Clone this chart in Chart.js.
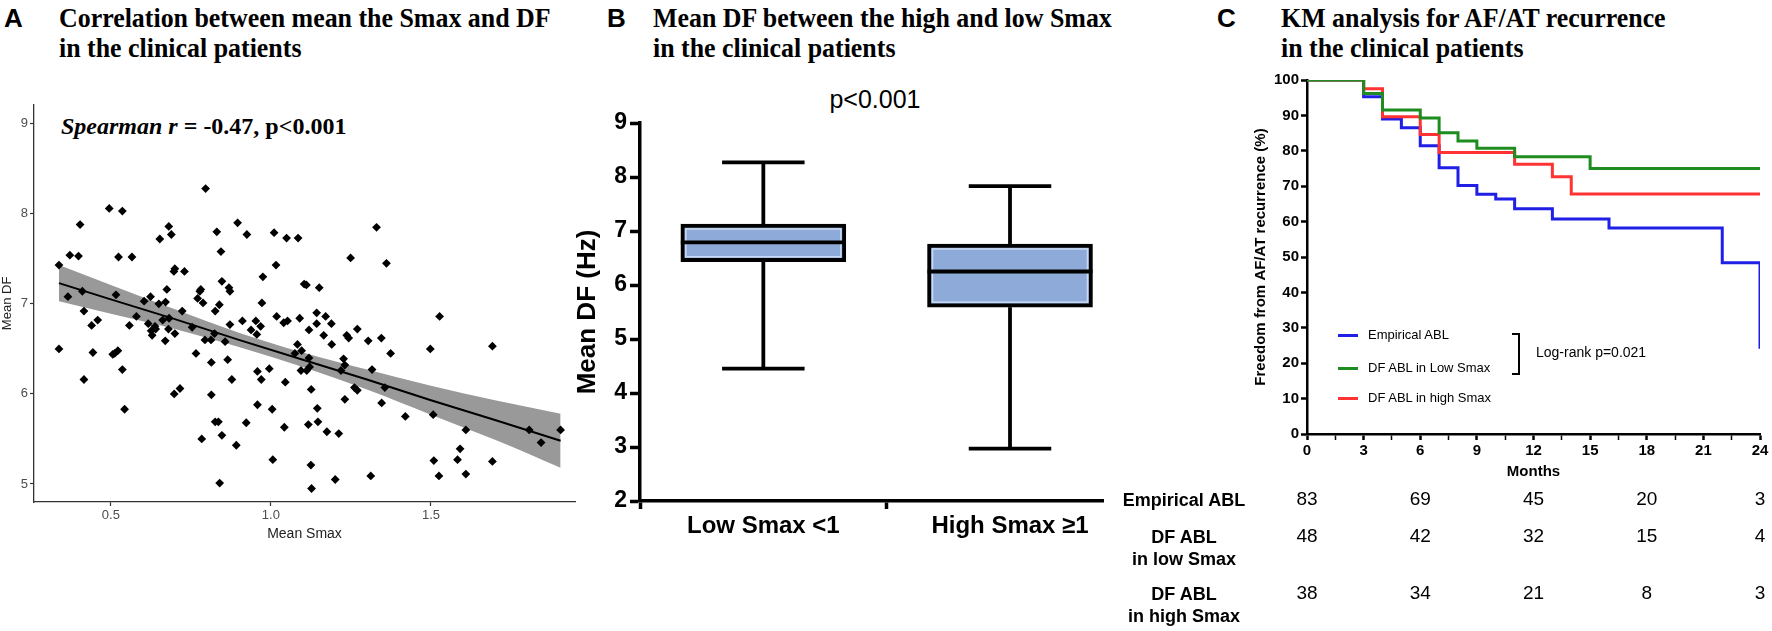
<!DOCTYPE html>
<html><head><meta charset="utf-8">
<script src="https://cdn.jsdelivr.net/npm/chart.js@4.4.0/dist/chart.umd.min.js"></script>
<style>
body{margin:0;width:1772px;height:631px;background:#fff;position:relative;overflow:hidden;font-family:"Liberation Sans",Arial,sans-serif;}
.abs{position:absolute;white-space:nowrap;}
.lab{font:bold 26px "Liberation Sans",Arial,sans-serif;line-height:30px;}
.ttl{font:bold 28px "Liberation Serif","Times New Roman",serif;line-height:30px;transform:scaleX(0.925);transform-origin:0 0;}
canvas{position:absolute;}
.row{font:bold 18px "Liberation Sans",Arial,sans-serif;text-align:center;line-height:22px;transform:translateX(-50%);}
.lg{font:13px "Liberation Sans",Arial,sans-serif;line-height:16px;}
.sw{position:absolute;height:3px;width:20px;}
</style></head><body>

<div class="abs lab" style="left:4px;top:3px;">A</div>
<div class="abs ttl" style="left:59px;top:3px;">Correlation between mean the Smax and DF<br>in the clinical patients</div>
<div class="abs lab" style="left:607px;top:3px;">B</div>
<div class="abs ttl" style="left:653px;top:3px;">Mean DF between the high and low Smax<br>in the clinical patients</div>
<div class="abs lab" style="left:1217px;top:3px;">C</div>
<div class="abs ttl" style="left:1281px;top:3px;">KM analysis for AF/AT recurrence<br>in the clinical patients</div>

<div class="abs" style="left:61px;top:111px;font:bold 24px 'Liberation Serif','Times New Roman',serif;line-height:30px;"><i>Spearman r</i> = -0.47, p&lt;0.001</div>
<div class="abs" style="left:875px;top:84px;transform:translateX(-50%);font:25px 'Liberation Sans',Arial,sans-serif;line-height:30px;">p&lt;0.001</div>

<canvas id="cA" width="580" height="465" style="left:0px;top:95px;"></canvas>
<canvas id="cB" width="570" height="490" style="left:540px;top:70px;"></canvas>
<canvas id="cC" width="536" height="566" style="left:1236px;top:65px;"></canvas>

<!-- KM legend -->
<div class="sw" style="left:1338px;top:334px;background:#1f1fe6;"></div>
<div class="abs lg" style="left:1368px;top:327px;">Empirical ABL</div>
<div class="sw" style="left:1338px;top:367px;background:#1e8c1e;"></div>
<div class="abs lg" style="left:1368px;top:360px;">DF ABL in Low Smax</div>
<div class="sw" style="left:1338px;top:397px;background:#ff3333;"></div>
<div class="abs lg" style="left:1368px;top:390px;">DF ABL in high Smax</div>
<div class="abs" style="left:1512px;top:333px;width:6px;height:38px;border:2.5px solid #000;border-left:none;"></div>
<div class="abs" style="left:1536px;top:343px;font:14px 'Liberation Sans',Arial,sans-serif;line-height:18px;">Log-rank p=0.021</div>

<!-- risk table row labels -->
<div class="abs row" style="left:1184px;top:489px;">Empirical ABL</div>
<div class="abs row" style="left:1184px;top:526px;">DF ABL<br>in low Smax</div>
<div class="abs row" style="left:1184px;top:583px;">DF ABL<br>in high Smax</div>

<script>
// ---------- Panel A data ----------
const aSmax = [0.338,0.366,0.372,0.399,0.404,0.411,0.495,0.524,0.536,0.516,0.566,0.604,0.624,0.653,0.650,0.671,0.675,0.681,0.689,0.697,0.700,0.730,0.771,0.778,0.781,0.788,0.796,0.831,0.839,0.844,0.847,0.869,0.872,0.896,0.925,0.975,0.972,1.010,1.016,1.049,1.085,1.104,1.111,1.151,1.249,1.330,1.361,
0.338,0.416,0.440,0.444,0.459,0.416,0.506,0.512,0.522,0.536,0.543,0.558,0.580,0.617,0.626,0.629,0.638,0.640,0.662,0.670,0.680,0.682,0.700,0.698,0.716,0.723,0.754,0.766,0.784,0.794,0.813,0.814,0.814,0.824,0.826,0.826,0.836,0.840,0.847,0.857,0.865,0.872,0.878,0.892,0.911,0.923,0.938,0.953,0.958,0.958,0.956,0.968,0.970,0.995,1.004,1.006,1.018,1.040,1.045,1.042,1.052,1.083,1.090,1.096,1.075,1.094,1.112,1.119,1.119,1.121,1.117,1.126,1.125,1.127,1.143,1.143,1.145,1.147,1.165,1.171,1.175,1.189,1.190,1.201,1.212,1.227,1.219,1.231,1.231,1.237,1.243,1.261,1.270,1.270,1.304,1.312,1.316,1.345,1.346,1.356,1.374,1.420,1.498,1.507,1.509,1.527,1.525,1.583,1.591,1.609,1.609,1.692,1.692,1.807,1.844,1.905];
const aDF = [7.43,7.08,7.54,7.53,7.88,7.14,8.06,7.52,8.03,7.10,7.52,7.03,7.08,7.72,7.00,7.02,7.16,7.86,7.77,7.36,7.39,7.36,7.06,7.14,7.16,7.01,8.28,7.80,6.99,7.58,7.25,7.18,7.14,7.90,7.77,7.30,7.01,7.79,7.43,7.73,7.73,7.22,7.21,7.18,7.51,7.85,7.45,
6.50,6.92,6.76,6.46,6.82,6.16,6.44,6.45,6.48,6.27,5.83,6.76,6.86,6.78,6.70,6.65,6.75,6.72,6.82,6.59,6.72,6.84,6.67,6.00,6.06,6.92,6.74,6.45,5.50,6.60,6.60,6.35,5.99,6.67,6.92,5.69,5.69,5.01,5.54,6.58,6.38,6.77,6.16,5.43,6.81,5.68,6.71,6.81,6.25,5.88,6.66,6.75,6.16,6.28,5.83,5.27,6.86,6.79,6.13,5.63,6.81,6.55,6.84,6.48,6.45,6.26,6.26,6.71,6.40,6.30,5.66,6.05,5.21,4.95,6.90,6.78,5.84,5.69,6.65,6.86,5.58,6.78,6.55,5.05,5.56,6.39,6.26,6.32,5.94,6.65,6.62,6.07,6.04,6.72,6.59,5.09,6.27,6.62,5.90,6.07,6.45,5.75,6.50,5.77,5.26,6.86,5.09,5.27,5.39,5.60,5.11,6.53,5.25,5.60,5.46,5.60];
const aFitX   = [0.338,0.5,0.7,0.9,1.1,1.3,1.5,1.7,1.905];
const aFitY   = [7.23,7.05,6.83,6.60,6.38,6.16,5.93,5.71,5.48];
const aBandHi = [7.43,7.21,6.94,6.68,6.46,6.27,6.09,5.93,5.78];
const aBandLo = [7.03,6.89,6.72,6.52,6.30,6.05,5.77,5.49,5.18];
const aXTicks = [0.5,1.0,1.5];
const aYTicks = [5,6,7,8,9];

// ---------- Panel B data ----------
const bGroups = ['Low Smax <1','High Smax \u22651'];
const bMin = [4.45,2.97];
const bQ1  = [6.43,5.59];
const bMed = [6.79,6.25];
const bQ3  = [7.13,6.76];
const bMax = [8.27,7.83];

// ---------- Panel C data ----------
const cMonthsEmp  = [0,3,4,5,6,7,8,9,10,11,13,16,22,24];
const cSurvEmp    = [100,95.3,89.0,86.5,81.4,75.2,70.2,67.7,66.4,63.6,60.7,58.2,48.4,24.1];
const cMonthsLow  = [0,3,4,6,7,8,9,11,15,24];
const cSurvLow    = [100,96.2,91.5,89.3,85.1,82.8,80.7,78.3,75.0,75.0];
const cMonthsHigh = [0,3,4,6,7,11,13,14,24];
const cSurvHigh   = [100,97.5,89.6,84.6,79.5,76.2,72.7,67.8,67.8];
const cXTicks = [0,3,6,9,12,15,18,21,24];
const riskMonths = [0,6,12,18,24];
const riskEmp  = [83,69,45,20,3];
const riskLow  = [48,42,32,15,4];
const riskHigh = [38,34,21,8,3];

Chart.defaults.font.family = '"Liberation Sans", Arial, sans-serif';
Chart.defaults.color = '#000';
Chart.defaults.animation = false;
Chart.defaults.responsive = false;
Chart.defaults.plugins.legend.display = false;
Chart.defaults.plugins.tooltip.enabled = false;

const pts = (xs, ys) => xs.map((x,i)=>({x, y:ys[i]}));

// ---------- Chart A ----------
new Chart(document.getElementById('cA'), {
  type:'scatter',
  data:{datasets:[
    {data:pts(aSmax,aDF), pointStyle:'rectRot', pointRadius:4.4, backgroundColor:'#000', borderColor:'#000', borderWidth:0},
    {type:'line', showLine:true, data:pts(aFitX,aFitY), borderColor:'#000', borderWidth:2, pointRadius:0, fill:false},
    {type:'line', showLine:true, data:pts(aFitX,aBandHi), borderColor:'rgba(0,0,0,0)', borderWidth:0, pointRadius:0, fill:'+1', backgroundColor:'#999999', cubicInterpolationMode:'monotone'},
    {type:'line', showLine:true, data:pts(aFitX,aBandLo), borderColor:'rgba(0,0,0,0)', borderWidth:0, pointRadius:0, fill:false, cubicInterpolationMode:'monotone'}
  ]},
  options:{
    layout:{padding:{top:7,right:5,bottom:0,left:0}},
    scales:{
      x:{type:'linear', min:0.26, max:1.95,
        afterBuildTicks:s=>{s.ticks=aXTicks.map(v=>({value:v}));},
        afterFit:s=>{s.height=58;},
        ticks:{callback:v=>v.toFixed(1), color:'#4d4d4d', font:{size:13}, padding:2, maxRotation:0},
        grid:{drawOnChartArea:false, tickLength:4, color:'#333', tickWidth:1.2},
        border:{color:'#333', width:1.3},
        title:{display:true, text:'Mean Smax', color:'#222', font:{size:14}, padding:{top:0,bottom:17}}},
      y:{type:'linear', min:4.8, max:9.21,
        afterBuildTicks:s=>{s.ticks=aYTicks.map(v=>({value:v}));},
        afterFit:s=>{s.width=34;},
        ticks:{callback:v=>String(v), color:'#4d4d4d', font:{size:13}, padding:2},
        grid:{drawOnChartArea:false, tickLength:4, color:'#333', tickWidth:1.2},
        border:{color:'#333', width:1.3},
        title:{display:true, text:'Mean DF', color:'#222', font:{size:13}, padding:{top:0,bottom:0}}}
    }
  }
});

// ---------- Chart B ----------
const whiskerPlugin = {
  id:'whiskers',
  afterDatasetsDraw(chart){
    const {ctx, scales:{y}} = chart;
    const meta = chart.getDatasetMeta(0);
    ctx.save();
    const seg = (x1,y1,x2,y2)=>{ctx.beginPath();ctx.moveTo(x1,y1);ctx.lineTo(x2,y2);ctx.stroke();};
    bGroups.forEach((g,i)=>{
      const el = meta.data[i];
      const cx = el.x, hw = el.width/2, cap = hw/2;
      const yT = y.getPixelForValue(bQ3[i]), yB = y.getPixelForValue(bQ1[i]);
      // light inner outline of the box
      ctx.strokeStyle = '#c9dcf3'; ctx.lineWidth = 1.5;
      ctx.strokeRect(cx-hw+5, yT+5, 2*hw-10, yB-yT-10);
      ctx.strokeStyle = '#000'; ctx.lineWidth = 3.8; ctx.lineCap = 'butt';
      seg(cx, yT, cx, y.getPixelForValue(bMax[i]));
      seg(cx, yB, cx, y.getPixelForValue(bMin[i]));
      seg(cx-cap, y.getPixelForValue(bMax[i]), cx+cap, y.getPixelForValue(bMax[i]));
      seg(cx-cap, y.getPixelForValue(bMin[i]), cx+cap, y.getPixelForValue(bMin[i]));
      seg(cx-hw, y.getPixelForValue(bMed[i]), cx+hw, y.getPixelForValue(bMed[i]));
    });
    ctx.restore();
  }
};
new Chart(document.getElementById('cB'), {
  type:'bar',
  data:{datasets:[{
    data:bGroups.map((g,i)=>({x:i+1, y:[bQ1[i], bQ3[i]]})),
    backgroundColor:'#8eaad8', borderColor:'#000', borderWidth:4, borderSkipped:false, barThickness:165
  }]},
  plugins:[whiskerPlugin],
  options:{
    layout:{padding:{top:53,right:7,bottom:0,left:0}},
    scales:{
      x:{type:'linear', min:0.5, max:2.377, offset:false,
        afterBuildTicks:s=>{s.ticks=bGroups.map((g,i)=>({value:i+1}));},
        afterFit:s=>{s.height=59;},
        ticks:{callback:v=>bGroups[Math.round(v)-1]||'', font:{size:24, weight:'bold'}, color:'#000', padding:3, maxRotation:0, autoSkip:false},
        grid:{drawOnChartArea:false, tickLength:8, color:'#000', tickWidth:3.5},
        border:{color:'#000', width:3.5}},
      y:{type:'linear', min:2, max:9,
        ticks:{stepSize:1, font:{size:23, weight:'bold'}, color:'#000', padding:3},
        afterFit:s=>{s.width=100;},
        grid:{drawOnChartArea:false, tickLength:10, color:'#000', tickWidth:3.5},
        border:{color:'#000', width:3.5},
        title:{display:true, text:'Mean DF (Hz)', font:{size:26, weight:'bold'}, color:'#000', padding:{top:32,bottom:0}}}
    }
  }
});

// ---------- Chart C ----------
const riskPlugin = {
  id:'riskTable',
  afterDraw(chart){
    const {ctx, scales:{x}} = chart;
    const top = 65;
    ctx.save();
    ctx.font = '19px "Liberation Sans", Arial, sans-serif';
    ctx.fillStyle = '#000'; ctx.textAlign = 'center'; ctx.textBaseline = 'middle';
    [[riskEmp,500],[riskLow,537],[riskHigh,594]].forEach(([vals,yy])=>{
      vals.forEach((v,j)=>ctx.fillText(String(v), x.getPixelForValue(riskMonths[j]), yy-top));
    });
    ctx.restore();
  }
};
const kmDs = (label, xs, ys, color) => ({label, data:pts(xs,ys), borderColor:color, backgroundColor:color, borderWidth:3, pointRadius:0, stepped:'before', fill:false});
new Chart(document.getElementById('cC'), {
  type:'line',
  data:{datasets:[
    kmDs('DF ABL in Low Smax', cMonthsLow, cSurvLow, '#1e8c1e'),
    kmDs('DF ABL in high Smax', cMonthsHigh, cSurvHigh, '#ff3333'),
    kmDs('Empirical ABL', cMonthsEmp, cSurvEmp, '#1f1fe6')
  ]},
  plugins:[riskPlugin],
  options:{
    layout:{padding:{top:15,right:12,bottom:147,left:0}},
    scales:{
      x:{type:'linear', min:0, max:24,
        afterBuildTicks:s=>{
          const t=[];
          cXTicks.forEach((v,i)=>{t.push({value:v}); if(i<cXTicks.length-1) t.push({value:(v+cXTicks[i+1])/2});});
          s.ticks=t;
        },
        afterFit:s=>{s.height=50;},
        ticks:{callback:v=>(v%3===0?String(v):''), font:{size:15, weight:'bold'}, color:'#000', padding:2, maxRotation:0, autoSkip:false},
        grid:{drawOnChartArea:false, tickLength:6, color:'#000', tickWidth:c=>(c.tick && c.tick.value%3===0 ? 2.5 : 1.5)},
        border:{color:'#000', width:2.5},
        title:{display:true, text:'Months', font:{size:15, weight:'bold'}, color:'#000', padding:{top:0,bottom:3}}},
      y:{type:'linear', min:0, max:100,
        ticks:{stepSize:10, font:{size:15, weight:'bold'}, color:'#000', padding:2},
        afterFit:s=>{s.width=71;},
        grid:{drawOnChartArea:false, tickLength:6, color:'#000', tickWidth:2.5},
        border:{color:'#000', width:2.5},
        title:{display:true, text:'Freedom from AF/AT recurrence (%)', font:{size:15, weight:'bold'}, color:'#000', padding:{top:16,bottom:0}}}
    }
  }
});
</script>
</body></html>
